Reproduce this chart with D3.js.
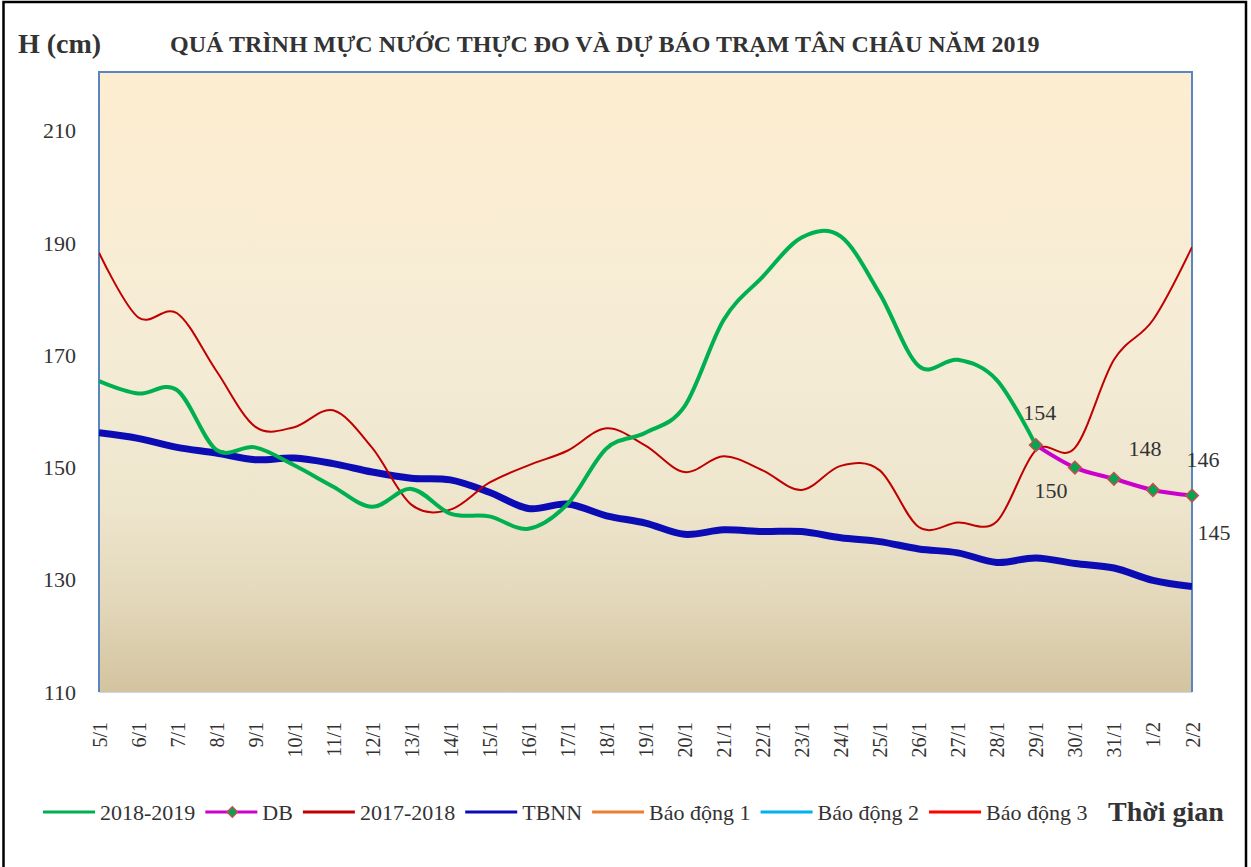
<!DOCTYPE html>
<html>
<head>
<meta charset="utf-8">
<script src="https://cdn.jsdelivr.net/npm/d3@7"></script>
<style>
  body { margin: 0; background: #fff; }
  svg { display: block; font-family: "Liberation Serif", "Times New Roman", serif; }
</style>
</head>
<body>
<script>
// water level chart, Tan Chau station

var dates = ["5/1","6/1","7/1","8/1","9/1","10/1","11/1","12/1","13/1","14/1","15/1","16/1","17/1","18/1","19/1",
             "20/1","21/1","22/1","23/1","24/1","25/1","26/1","27/1","28/1","29/1","30/1","31/1","1/2","2/2"]

var level2019 = [165.4, 163.2, 163.8, 153.2, 153.6, 150.4, 146.6, 143, 146.2, 141.8, 141.3, 139.1, 143.5, 153.4, 156.2,
                 160.9, 176.3, 184, 191, 191.2, 181, 168.1, 169.2, 165.6, 154, null, null, null, null]

var forecast = [null, null, null, null, null, null, null, null, null, null, null, null, null, null, null,
                null, null, null, null, null, null, null, null, null, 154, 150, 148, 146, 145]

var level2018 = [188.3, 176.8, 177.5, 167.3, 157.3, 157.2, 160.2, 153.5, 143.4, 142.5, 147.3, 150.4, 153, 157, 153.9,
                 149.2, 152, 149.5, 146, 150.3, 149.5, 139.4, 140.2, 140.4, 153.1, 153.5, 169.2, 176.3, 189.3]

var tbnn = [156.2, 155.2, 153.6, 152.6, 151.4, 151.7, 150.7, 149.2, 148.1, 147.8, 145.6, 142.7, 143.5, 141.4, 140.1,
            138.1, 138.9, 138.6, 138.6, 137.5, 136.8, 135.5, 134.8, 133.1, 133.9, 132.9, 132.1, 129.9, 128.8]

// alarm levels (cm) - way above this range so only in the legend
var alarm1 = 350, alarm2 = 400, alarm3 = 450

var yTicks = [110, 130, 150, 170, 190, 210]

var seriesNames = ["2018-2019", "DB", "2017-2018", "TBNN", "Báo động 1", "Báo động 2", "Báo động 3"]
var seriesColors = ["#00b050", "#cc00cc", "#c00000", "#0c0cb4", "#ed7d31", "#00b0f0", "#ff0000"]

var W = 1251, H = 867
var pLeft = 99, pRight = 1192, pTop = 72, pBottom = 692

var svg = d3.select("body").append("svg")
    .attr("width", W)
    .attr("height", H)

var x = d3.scalePoint().domain(dates).range([pLeft, pRight])
var y = d3.scaleLinear().domain([110, 220.5]).range([pBottom, pTop])

// background gradient
var defs = svg.append("defs")
var grad = defs.append("linearGradient")
    .attr("id", "bg").attr("x1", 0).attr("y1", 0).attr("x2", 0).attr("y2", 1)
var stops = [[0, "#fdedd0"], [0.45, "#f5ecd6"], [0.7, "#eee5cd"], [0.85, "#e3d8bb"], [1, "#d3c49f"]]
stops.forEach(function(s){
  grad.append("stop").attr("offset", s[0]).attr("stop-color", s[1])
})
defs.append("clipPath").attr("id", "plotclip")
  .append("rect").attr("x", pLeft).attr("y", pTop).attr("width", pRight - pLeft).attr("height", pBottom - pTop)

svg.append("rect")
    .attr("x", pLeft).attr("y", pTop)
    .attr("width", pRight - pLeft).attr("height", pBottom - pTop)
    .style("fill", "url(#bg)")

svg.append("path")
    .attr("d", "M" + pLeft + "," + pBottom + "V" + pTop + "H" + pRight + "V" + pBottom)
    .style("fill", "none").style("stroke", "#5a86c0").style("stroke-width", 2)
svg.append("line")
    .attr("x1", pLeft).attr("x2", pRight).attr("y1", pBottom + 0.5).attr("y2", pBottom + 0.5)
    .style("stroke", "#cfd7e4").style("stroke-width", 1)

// outer frame
svg.append("rect")
    .attr("x", 3.5).attr("y", 2).attr("width", 1242.5).attr("height", 880)
    .style("fill", "none").style("stroke", "#000").style("stroke-width", 2.5)

// axes
var yAxis = svg.append("g")
    .attr("transform", "translate(" + pLeft + ",0)")
    .call(d3.axisLeft(y).tickValues(yTicks).tickSize(0).tickPadding(23))
yAxis.select(".domain").remove()
yAxis.selectAll("text")
    .style("font-family", "Liberation Serif").style("font-size", "22px").style("fill", "#333")

var xAxis = svg.append("g")
    .attr("transform", "translate(0," + pBottom + ")")
    .call(d3.axisBottom(x).tickSize(0))
xAxis.select(".domain").remove()
xAxis.selectAll("text")
    .attr("transform", "translate(0,30) rotate(-90)")
    .attr("x", 0).attr("y", 0).attr("dy", "0.35em")
    .style("text-anchor", "end")
    .style("font-family", "Liberation Serif").style("font-size", "20px").style("fill", "#333")

// lines
var plot = svg.append("g").attr("clip-path", "url(#plotclip)")

function drawLine(values, color, width){
  var line = d3.line()
      .defined(function(d){ return d != null })
      .x(function(d, i){ return x(dates[i]) })
      .y(function(d){ return y(d) })
      .curve(d3.curveCardinal.tension(0))
  plot.append("path")
      .datum(values)
      .attr("d", line)
      .style("fill", "none")
      .style("stroke", color)
      .style("stroke-width", width)
      .style("stroke-linejoin", "round")
}

drawLine(dates.map(function(){ return alarm1 }), seriesColors[4], 2.5)
drawLine(dates.map(function(){ return alarm2 }), seriesColors[5], 2.5)
drawLine(dates.map(function(){ return alarm3 }), seriesColors[6], 2.5)
drawLine(tbnn, seriesColors[3], 7)
drawLine(level2018, seriesColors[2], 2)
drawLine(level2019, seriesColors[0], 4)
drawLine(forecast, seriesColors[1], 4)

var diamond = d3.symbol().type(d3.symbolSquare).size(80)
var dbPoints = forecast.map(function(v, i){ return {v: v, i: i} }).filter(function(d){ return d.v != null })

svg.selectAll(".db")
    .data(dbPoints)
    .enter().append("path")
    .attr("class", "db")
    .attr("d", diamond)
    .attr("transform", function(d){ return "translate(" + x(dates[d.i]) + "," + y(d.v) + ") rotate(45)" })
    .style("fill", "#00a651")
    .style("stroke", "#c0504d")
    .style("stroke-width", 1.5)

// data labels for the forecast, moved by hand like in the original
var labelNudge = [[4, -33], [-24, 23], [31, -30], [50, -31], [22, 37]]
svg.selectAll(".dblabel")
    .data(dbPoints)
    .enter().append("text")
    .attr("class", "dblabel")
    .attr("x", function(d, k){ return x(dates[d.i]) + labelNudge[k][0] })
    .attr("y", function(d, k){ return y(d.v) + labelNudge[k][1] })
    .attr("dy", "0.35em")
    .style("text-anchor", "middle")
    .style("font-size", "22px")
    .style("fill", "#333")
    .text(function(d){ return d3.format("d")(d.v) })

// titles
svg.append("text")
    .attr("x", 18).attr("y", 53)
    .style("font-size", "28px").style("font-weight", "bold").style("fill", "#333")
    .text("H (cm)")

svg.append("text")
    .attr("x", 170).attr("y", 52)
    .style("font-size", "24px").style("font-weight", "bold").style("fill", "#333")
    .text("QUÁ TRÌNH MỰC NƯỚC THỰC ĐO VÀ DỰ BÁO TRẠM TÂN CHÂU NĂM 2019")

// legend
var legend = svg.append("g").attr("transform", "translate(0,812)")
var cursor = 43
seriesNames.forEach(function(name, k){
  legend.append("line")
      .attr("x1", cursor).attr("x2", cursor + 52)
      .style("stroke", seriesColors[k]).style("stroke-width", 3)
  if (name === "DB"){
    legend.append("path")
        .attr("d", d3.symbol().type(d3.symbolSquare).size(55))
        .attr("transform", "translate(" + (cursor + 27) + ",0) rotate(45)")
        .style("fill", "#00a651").style("stroke", "#c0504d").style("stroke-width", 1.5)
  }
  var t = legend.append("text")
      .attr("x", cursor + 57).attr("dy", "0.35em")
      .style("font-size", "22px").style("fill", "#333")
      .text(name)
  cursor = cursor + 57 + t.node().getComputedTextLength() + 10
})

svg.append("text")
    .attr("x", 1108).attr("y", 821)
    .style("font-size", "28px").style("font-weight", "bold").style("fill", "#333")
    .text("Thời gian")
</script>
</body>
</html>
